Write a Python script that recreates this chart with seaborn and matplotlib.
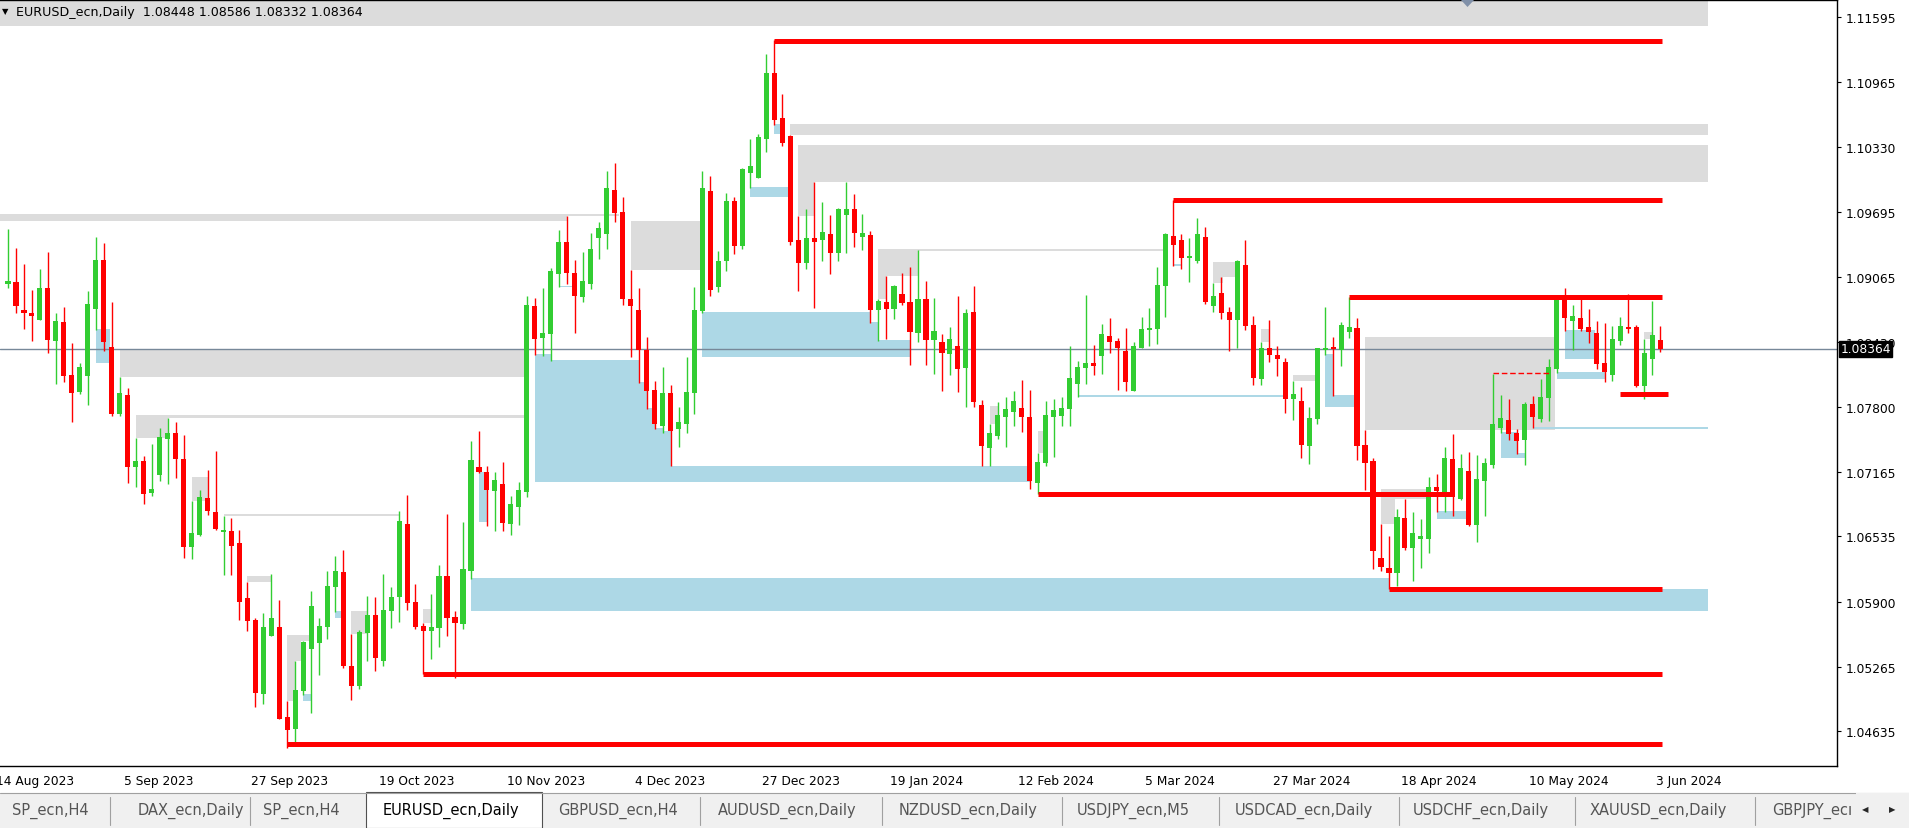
import numpy as np
import pandas as pd
import matplotlib
matplotlib.use("Agg")
import matplotlib.pyplot as plt
import matplotlib.transforms as mtransforms
from matplotlib.patches import Rectangle, Polygon
import seaborn as sns

# ---------------- data ----------------
opens = [1.08999, 1.09015, 1.08742, 1.08713, 1.08644, 1.08956, 1.08440, 1.08625, 1.08108, 1.07942,
         1.08098, 1.08752, 1.09229, 1.08381, 1.07728, 1.07913, 1.07211, 1.07270, 1.06958, 1.07133,
         1.07484, 1.07543, 1.07289, 1.06430, 1.06550, 1.06909, 1.06772, 1.06580, 1.06590, 1.06470,
         1.05934, 1.05719, 1.04998, 1.05563, 1.05651, 1.04774, 1.04657, 1.05027, 1.05437, 1.05495,
         1.05651, 1.06041, 1.06187, 1.05271, 1.05076, 1.05593, 1.05768, 1.05320, 1.05807, 1.05944,
         1.06655, 1.05895, 1.05661, 1.05612, 1.05641, 1.06148, 1.05749, 1.05680, 1.06197, 1.07211,
         1.07162, 1.06978, 1.07046, 1.06656, 1.06820, 1.06967, 1.08779, 1.08468, 1.08509, 1.09094,
         1.09405, 1.09101, 1.08868, 1.08995, 1.09443, 1.09484, 1.09911, 1.09696, 1.08848, 1.08742,
         1.08352, 1.07962, 1.07610, 1.07931, 1.07583, 1.07631, 1.07931, 1.08731, 1.09901, 1.08967,
         1.09220, 1.09804, 1.09365, 1.10077, 1.10028, 1.10409, 1.11052, 1.10613, 1.10438, 1.09424,
         1.09200, 1.09443, 1.09424, 1.09482, 1.09297, 1.09668, 1.09726, 1.09453, 1.09473, 1.08741,
         1.08819, 1.08751, 1.08897, 1.08819, 1.08517, 1.08849, 1.08449, 1.08429, 1.08312, 1.08390,
         1.08176, 1.08722, 1.07816, 1.07396, 1.07513, 1.07699, 1.07747, 1.07786, 1.07699, 1.07055,
         1.07250, 1.07699, 1.07708, 1.07777, 1.08020, 1.08176, 1.08225, 1.08293, 1.08488, 1.08440,
         1.08342, 1.07952, 1.08371, 1.08547, 1.08557, 1.08976, 1.09463, 1.09424, 1.09249, 1.09220,
         1.09454, 1.08780, 1.08907, 1.08722, 1.08644, 1.09180, 1.08595, 1.08069, 1.08371, 1.08303,
         1.08234, 1.07874, 1.07854, 1.07415, 1.07679, 1.08351, 1.08377, 1.08351, 1.08527, 1.08566,
         1.07425, 1.07269, 1.06323, 1.06226, 1.06177, 1.06713, 1.06421, 1.06509, 1.06509, 1.07016,
         1.06938, 1.07289, 1.06899, 1.07172, 1.06646, 1.07075, 1.07231, 1.07591, 1.07669, 1.07543,
         1.07474, 1.07825, 1.07679, 1.07884, 1.08167, 1.08849, 1.08635, 1.08664, 1.08576, 1.08518,
         1.08225, 1.08108, 1.08440, 1.08576, 1.08576, 1.08001, 1.08264, 1.08448]
highs = [1.09532, 1.09346, 1.09190, 1.08937, 1.09141, 1.09307, 1.08713, 1.08771, 1.08420, 1.08225,
         1.08927, 1.09454, 1.09395, 1.08820, 1.08089, 1.07981, 1.07494, 1.07318, 1.07435, 1.07591,
         1.07689, 1.07650, 1.07523, 1.06879, 1.06987, 1.07182, 1.07367, 1.06737, 1.06714, 1.06600,
         1.06090, 1.05739, 1.05788, 1.06168, 1.05914, 1.04930, 1.05320, 1.05515, 1.06002, 1.05739,
         1.06197, 1.06343, 1.06402, 1.05583, 1.05622, 1.05953, 1.05944, 1.06168, 1.06041, 1.06782,
         1.06938, 1.06070, 1.05690, 1.05973, 1.06256, 1.06753, 1.05807, 1.06675, 1.07465, 1.07562,
         1.07221, 1.07162, 1.07261, 1.06930, 1.07066, 1.08878, 1.08858, 1.08957, 1.09152, 1.09521,
         1.09658, 1.09231, 1.09306, 1.09494, 1.09600, 1.10096, 1.10174, 1.09843, 1.09131, 1.08957,
         1.08478, 1.08051, 1.08188, 1.08010, 1.07795, 1.08284, 1.08967, 1.10096, 1.10048, 1.09316,
         1.09883, 1.09843, 1.10126, 1.10409, 1.10457, 1.11237, 1.11370, 1.10847, 1.10448, 1.09658,
         1.09726, 1.09989, 1.09794, 1.09668, 1.09736, 1.09989, 1.09872, 1.09677, 1.09512, 1.08849,
         1.09073, 1.08985, 1.09102, 1.09161, 1.09326, 1.09024, 1.08858, 1.08507, 1.08576, 1.08878,
         1.08751, 1.08976, 1.07864, 1.07630, 1.07845, 1.07894, 1.07952, 1.08059, 1.07962, 1.07348,
         1.07855, 1.07874, 1.07894, 1.08391, 1.08245, 1.08888, 1.08401, 1.08605, 1.08664, 1.08469,
         1.08566, 1.08430, 1.08674, 1.08761, 1.09161, 1.09493, 1.09810, 1.09483, 1.09444, 1.09639,
         1.09551, 1.09005, 1.09063, 1.08771, 1.09229, 1.09424, 1.08683, 1.08429, 1.08644, 1.08390,
         1.08273, 1.08049, 1.07991, 1.07796, 1.08371, 1.08771, 1.08478, 1.08624, 1.08870, 1.08663,
         1.07571, 1.07298, 1.06655, 1.06538, 1.06801, 1.06899, 1.06772, 1.06704, 1.07113, 1.07142,
         1.07406, 1.07533, 1.07338, 1.07357, 1.07328, 1.07299, 1.08118, 1.07913, 1.07874, 1.07582,
         1.07845, 1.07903, 1.08069, 1.08264, 1.08869, 1.08956, 1.08791, 1.08849, 1.08752, 1.08635,
         1.08615, 1.08586, 1.08674, 1.08898, 1.08596, 1.08459, 1.08830, 1.08586]
lows = [1.08956, 1.08713, 1.08557, 1.08440, 1.08644, 1.08323, 1.08020, 1.08040, 1.07650, 1.07923,
        1.07816, 1.08547, 1.08342, 1.07708, 1.07708, 1.07055, 1.07016, 1.06850, 1.06928, 1.07075,
        1.07045, 1.07104, 1.06320, 1.06310, 1.06540, 1.06743, 1.06600, 1.06160, 1.06160, 1.05720,
        1.05612, 1.04871, 1.04900, 1.05563, 1.04754, 1.04475, 1.04501, 1.04988, 1.04813, 1.05183,
        1.05534, 1.05797, 1.05251, 1.04939, 1.05047, 1.05320, 1.05222, 1.05271, 1.05641, 1.05700,
        1.05817, 1.05632, 1.05195, 1.05339, 1.05456, 1.05563, 1.05154, 1.05632, 1.06119, 1.07153,
        1.06636, 1.06588, 1.06588, 1.06550, 1.06646, 1.06919, 1.08304, 1.08294, 1.08246, 1.08967,
        1.08995, 1.08516, 1.08820, 1.08947, 1.09237, 1.09337, 1.09600, 1.08790, 1.08284, 1.08031,
        1.07778, 1.07583, 1.07545, 1.07224, 1.07408, 1.07545, 1.07730, 1.08711, 1.08878, 1.08916,
        1.09121, 1.09287, 1.09336, 1.09931, 1.10028, 1.10282, 1.10545, 1.10340, 1.09375, 1.08927,
        1.09141, 1.08761, 1.09219, 1.09092, 1.09219, 1.09297, 1.09356, 1.09326, 1.08615, 1.08439,
        1.08459, 1.08654, 1.08790, 1.08205, 1.08429, 1.08205, 1.08117, 1.07952, 1.08108, 1.07942,
        1.07796, 1.07796, 1.07221, 1.07221, 1.07484, 1.07406, 1.07611, 1.07552, 1.06997, 1.06950,
        1.07221, 1.07309, 1.07611, 1.07611, 1.07894, 1.08020, 1.08108, 1.08118, 1.08323, 1.07962,
        1.07952, 1.07952, 1.08371, 1.08391, 1.08410, 1.08674, 1.09171, 1.09142, 1.09015, 1.09200,
        1.08800, 1.08722, 1.08654, 1.08342, 1.08371, 1.08546, 1.08010, 1.08010, 1.08234, 1.08098,
        1.07737, 1.07669, 1.07298, 1.07240, 1.07630, 1.08303, 1.07903, 1.08195, 1.08468, 1.07279,
        1.06986, 1.06216, 1.06197, 1.06025, 1.06050, 1.06401, 1.06099, 1.06226, 1.06372, 1.06772,
        1.06772, 1.06733, 1.06889, 1.06636, 1.06480, 1.06733, 1.07201, 1.07543, 1.07474, 1.07338,
        1.07231, 1.07591, 1.07650, 1.07660, 1.08128, 1.08537, 1.08352, 1.08537, 1.08420, 1.08167,
        1.08040, 1.08050, 1.08401, 1.08518, 1.07991, 1.07874, 1.08108, 1.08332]
closes = [1.09025, 1.08784, 1.08716, 1.08687, 1.08956, 1.08453, 1.08634, 1.08098, 1.07933, 1.08186,
          1.08800, 1.09229, 1.08430, 1.07728, 1.07933, 1.07211, 1.07270, 1.06948, 1.06997, 1.07504,
          1.07543, 1.07289, 1.06430, 1.06570, 1.06919, 1.06782, 1.06610, 1.06600, 1.06440, 1.05900,
          1.05710, 1.05008, 1.05651, 1.05739, 1.04754, 1.04647, 1.05037, 1.05505, 1.05856, 1.05661,
          1.06051, 1.06197, 1.05271, 1.05076, 1.05602, 1.05768, 1.05349, 1.05817, 1.05944, 1.06685,
          1.05885, 1.05651, 1.05612, 1.05651, 1.06148, 1.05739, 1.05690, 1.06217, 1.07279, 1.07162,
          1.06987, 1.07084, 1.06666, 1.06851, 1.06988, 1.08790, 1.08458, 1.08516, 1.09121, 1.09405,
          1.09101, 1.08878, 1.09025, 1.09337, 1.09542, 1.09932, 1.09689, 1.08848, 1.08779, 1.08352,
          1.07952, 1.07631, 1.07931, 1.07562, 1.07651, 1.07942, 1.08742, 1.09932, 1.08937, 1.09220,
          1.09805, 1.09365, 1.10116, 1.10145, 1.10428, 1.11052, 1.10594, 1.10370, 1.09404, 1.09200,
          1.09443, 1.09404, 1.09502, 1.09297, 1.09726, 1.09726, 1.09492, 1.09492, 1.08741, 1.08829,
          1.08751, 1.08975, 1.08810, 1.08527, 1.08849, 1.08449, 1.08537, 1.08322, 1.08459, 1.08166,
          1.08712, 1.07845, 1.07416, 1.07543, 1.07718, 1.07777, 1.07855, 1.07699, 1.07075, 1.07260,
          1.07718, 1.07767, 1.07786, 1.08079, 1.08186, 1.08225, 1.08196, 1.08508, 1.08430, 1.08371,
          1.08040, 1.08391, 1.08557, 1.08566, 1.08986, 1.09483, 1.09376, 1.09249, 1.09268, 1.09483,
          1.08820, 1.08878, 1.08712, 1.08644, 1.09219, 1.08585, 1.08078, 1.08371, 1.08303, 1.08264,
          1.07874, 1.07922, 1.07425, 1.07688, 1.08371, 1.08371, 1.08364, 1.08595, 1.08576, 1.07415,
          1.07250, 1.06392, 1.06236, 1.06177, 1.06723, 1.06421, 1.06567, 1.06538, 1.07016, 1.06977,
          1.07298, 1.06919, 1.07201, 1.06646, 1.07094, 1.07250, 1.07630, 1.07689, 1.07533, 1.07465,
          1.07825, 1.07699, 1.07894, 1.08186, 1.08849, 1.08664, 1.08683, 1.08557, 1.08527, 1.08215,
          1.08137, 1.08459, 1.08586, 1.08557, 1.08001, 1.08323, 1.08498, 1.08364]

date_labels = ["14 Aug 2023", "5 Sep 2023", "27 Sep 2023", "19 Oct 2023", "10 Nov 2023",
               "4 Dec 2023", "27 Dec 2023", "19 Jan 2024", "12 Feb 2024", "5 Mar 2024",
               "27 Mar 2024", "18 Apr 2024", "10 May 2024", "3 Jun 2024"]
price_ticks = [1.11595, 1.10965, 1.10330, 1.09695, 1.09065, 1.08430,
               1.07800, 1.07165, 1.06535, 1.05900, 1.05265, 1.04635]
last_price = 1.08364
title_text = "EURUSD_ecn,Daily  1.08448 1.08586 1.08332 1.08364"

# zones: (first bar, last bar, low, high)
gray_zones = [(-2.0, 213.0, 1.11510, 1.11800), (98.0, 213.0, 1.10447, 1.10555),
              (99.0, 213.0, 1.09989, 1.10350), (99.0, 101.0, 1.09658, 1.09989),
              (-2.0, 70.0, 1.09610, 1.09678), (70.0, 76.6, 1.09655, 1.09678),
              (78.0, 86.8, 1.09131, 1.09610), (109.0, 114.0, 1.09073, 1.09336),
              (109.0, 110.0, 1.08849, 1.09073), (114.0, 144.9, 1.09322, 1.09340),
              (14.0, 65.0, 1.08089, 1.08352), (16.0, 20.0, 1.07494, 1.07718),
              (20.0, 65.0, 1.07689, 1.07718), (23.0, 25.0, 1.06879, 1.07114),
              (27.0, 49.0, 1.06730, 1.06755), (30.0, 33.0, 1.06090, 1.06148),
              (35.0, 37.75, 1.05515, 1.05573), (35.0, 36.75, 1.05320, 1.05515),
              (35.0, 36.0, 1.04930, 1.05320), (43.0, 45.0, 1.05583, 1.05807),
              (52.0, 53.0, 1.05690, 1.05826), (123.0, 124.0, 1.07630, 1.07806),
              (129.0, 129.75, 1.07347, 1.07562), (151.0, 153.75, 1.09063, 1.09209),
              (151.0, 152.25, 1.09005, 1.09063), (157.0, 158.0, 1.08429, 1.08556),
              (161.0, 163.75, 1.08049, 1.08108), (170.0, 193.75, 1.07571, 1.08479),
              (172.0, 177.75, 1.06898, 1.06996), (172.0, 173.75, 1.06655, 1.06898),
              (205.0, 206.0, 1.08459, 1.08527)]
blue_zones = [(11.0, 12.75, 1.08225, 1.08557), (37.0, 38.0, 1.04930, 1.04998),
              (41.0, 41.75, 1.05739, 1.05807), (59.0, 60.0, 1.06675, 1.07162),
              (58.0, 173.0, 1.05812, 1.06130), (173.0, 213.0, 1.05812, 1.06025),
              (66.0, 68.0, 1.07070, 1.08311), (68.0, 79.1, 1.07070, 1.08253),
              (79.1, 80.0, 1.07070, 1.08037), (80.0, 81.0, 1.07070, 1.07788),
              (81.0, 82.0, 1.07070, 1.07593), (82.0, 83.0, 1.07070, 1.07559),
              (83.0, 128.0, 1.07070, 1.07224),
              (87.0, 108.0, 1.08283, 1.08722), (108.0, 109.0, 1.08283, 1.08624),
              (109.0, 113.0, 1.08283, 1.08449), (93.0, 97.75, 1.09843, 1.09940),
              (96.0, 96.75, 1.10457, 1.10555), (69.0, 70.75, 1.08962, 1.08980),
              (146.0, 147.0, 1.09170, 1.09190), (134.1, 159.75, 1.07895, 1.07910),
              (165.0, 166.1, 1.07796, 1.08312), (166.1, 168.75, 1.07796, 1.07912),
              (179.0, 182.75, 1.06704, 1.06782), (187.0, 189.0, 1.07299, 1.07552),
              (189.0, 190.0, 1.07299, 1.07350), (191.0, 213.0, 1.07582, 1.07600),
              (194.0, 200.0, 1.08069, 1.08137), (195.0, 198.75, 1.08264, 1.08547)]
# levels: (first bar, last bar, price)
red_levels = [(96, 207.2, 1.11365), (146, 207.2, 1.09810), (168, 207.2, 1.08870),
              (129, 180.75, 1.06950), (173, 207.2, 1.06025), (52, 207.2, 1.05195),
              (35, 207.2, 1.04514), (202, 208, 1.07923)]
dashed_levels = [(186, 193, 1.08124)]

tab_labels = ["SP_ecn,H4", "DAX_ecn,Daily", "SP_ecn,H4", "EURUSD_ecn,Daily", "GBPUSD_ecn,H4",
              "AUDUSD_ecn,Daily", "NZDUSD_ecn,Daily", "USDJPY_ecn,M5", "USDCAD_ecn,Daily",
              "USDCHF_ecn,Daily", "XAUUSD_ecn,Daily", "GBPJPY_ecı"]

# ---------------- style ----------------
sns.set_theme(style="white")
plt.rcParams['font.family'] = ['DejaVu Sans']

W, H = 1909, 829
fig = plt.figure(figsize=(W / 100, H / 100), dpi=100)
fig.patch.set_facecolor("white")

plot_bottom_px, plot_top_px, plot_right_px = 767, 1, 1837
ax = fig.add_axes([0, (H - plot_bottom_px) / H, plot_right_px / W,
                   (plot_bottom_px - plot_top_px) / H])
ax.set_facecolor("white")

GREEN = "#32CD32"
RED = "#FF0000"
GRAY = "#DCDCDC"
BLUE = "#ADD8E6"

df = pd.DataFrame({"open": opens, "high": highs, "low": lows, "close": closes})
df["bar"] = np.arange(len(df))
df["bull"] = df["close"] >= df["open"]
df["color"] = np.where(df["bull"], GREEN, RED)
df["body_lo"] = df[["open", "close"]].min(axis=1)
df["body_h"] = (df["close"] - df["open"]).abs().clip(lower=0.00009)

for x0, x1, lo, hi in gray_zones:
    ax.add_patch(Rectangle((x0, lo), x1 - x0, hi - lo, facecolor=GRAY, edgecolor="none", zorder=1))
for x0, x1, lo, hi in blue_zones:
    ax.add_patch(Rectangle((x0, lo), x1 - x0, hi - lo, facecolor=BLUE, edgecolor="none", zorder=1.1))

ax.axhline(last_price, color="#778899", lw=1.0, zorder=2)

ax.vlines(df["bar"], df["low"], df["high"], colors=df["color"], lw=1.0, zorder=3)
ax.bar(df["bar"], df["body_h"], bottom=df["body_lo"], width=0.64, color=df["color"],
       linewidth=0, zorder=3.5)

for x0, x1, p in red_levels:
    ax.hlines(p, x0, x1, colors=RED, lw=3.6, zorder=4, capstyle="butt")
for x0, x1, p in dashed_levels:
    ax.hlines(p, x0, x1, colors=RED, lw=1.0, linestyles=(0, (4, 2)), zorder=4)

ax.set_xlim(-0.5, (plot_right_px - 4) / 8)
ax.set_ylim(1.04297, 1.11764)

ax.yaxis.tick_right()
ax.set_yticks(price_ticks)
ax.set_yticklabels([f"{p:.5f}" for p in price_ticks])
ax.tick_params(axis="y", which="major", direction="out", length=3, width=0.8, color="black",
               labelsize=8.8, pad=3, labelcolor="black")

tick_pos = [-1 + 16 * i for i in range(len(date_labels))]
ax.set_xticks(tick_pos)
ax.set_xticklabels(date_labels, ha="left")
ax.tick_params(axis="x", which="major", direction="out", length=3, width=0.8, color="black",
               labelsize=8.8, pad=3, labelcolor="black")
offset = mtransforms.ScaledTranslation(-4 / 100, 0, fig.dpi_scale_trans)
for lab in ax.get_xticklabels():
    lab.set_transform(lab.get_transform() + offset)

for s in ax.spines.values():
    s.set_color("black")
    s.set_linewidth(1.0)
ax.spines["left"].set_visible(False)
ax.grid(False)

# current price box on the price scale
ax.annotate(f"{last_price:.5f}", xy=(1.0, last_price), xycoords=("axes fraction", "data"),
            xytext=(2.5, 0), textcoords="offset points", ha="left", va="center",
            fontsize=8.8, color="white", zorder=10,
            bbox=dict(boxstyle="square,pad=0.12", fc="black", ec="black"))

# title
fig.text(2 / W, 1 - 12 / H, "▼", fontsize=6, va="center", ha="left", color="black")
fig.text(16 / W, 1 - 12.5 / H, title_text, fontsize=9.1, va="center", ha="left", color="black")
# chart shift marker
fig.add_artist(Polygon([[1461 / W, 1 - 1 / H], [1474 / W, 1 - 1 / H], [1467.5 / W, 1 - 8 / H]],
                       closed=True, transform=fig.transFigure, facecolor="#8090A8",
                       edgecolor="none"))

# bottom tab bar
tab_top = 794
fig.add_artist(Rectangle((0, 0), 1, (H - tab_top) / H, transform=fig.transFigure,
                         facecolor="#F0F0F0", edgecolor="none", zorder=0))
fig.add_artist(plt.Line2D([0, 1], [(H - tab_top) / H] * 2, transform=fig.transFigure,
                          color="#A0A0A0", lw=0.8))
seps = [110, 250, 700, 882, 1062, 1219, 1399, 1575, 1755]
for sx in seps:
    fig.add_artist(plt.Line2D([sx / W] * 2, [(H - 826) / H, (H - 798) / H],
                              transform=fig.transFigure, color="#A0A0A0", lw=0.8))
fig.add_artist(Rectangle((366 / W, (H - 829) / H), (542 - 366) / W, (829 - tab_top + 1) / H,
                         transform=fig.transFigure, facecolor="white", edgecolor="#505050",
                         lw=0.8, zorder=1))
text_x = [12, 138, 263, 383, 558, 718, 899, 1077, 1235, 1413, 1590, 1772]
for lbl, tx in zip(tab_labels, text_x):
    active = lbl == "EURUSD_ecn,Daily"
    fig.text(tx / W, 1 - 811 / H, lbl, fontsize=10.5, va="center", ha="left",
             color="black" if active else "#555555", zorder=2)
fig.add_artist(Rectangle((1856 / W, 0), 53 / W, (H - tab_top) / H, transform=fig.transFigure,
                         facecolor="#F0F0F0", edgecolor="none", zorder=3))
fig.text(1865 / W, 1 - 810 / H, "◀", fontsize=6, va="center", ha="center", zorder=4)
fig.text(1892 / W, 1 - 810 / H, "▶", fontsize=6, va="center", ha="center", zorder=4)

fig.savefig("out.png", dpi=100, facecolor="white")
